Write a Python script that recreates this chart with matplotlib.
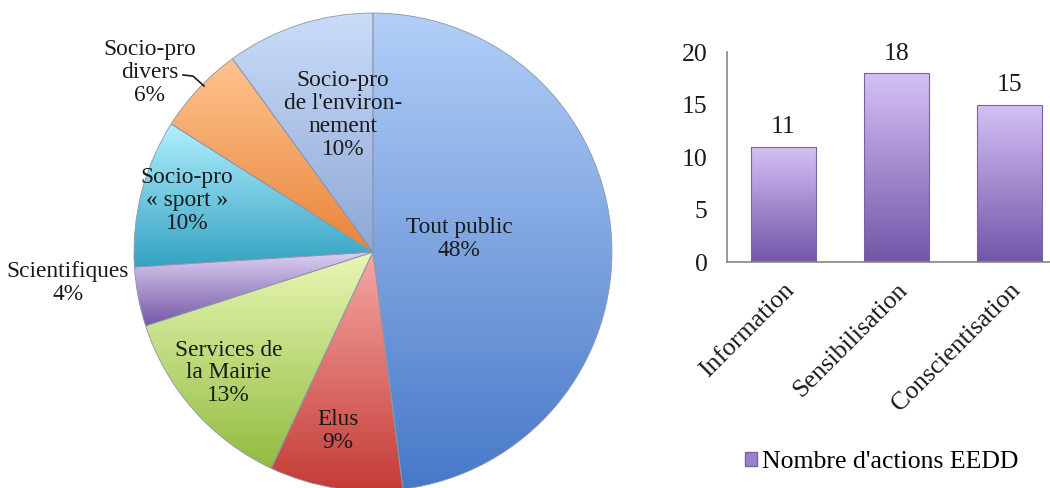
import numpy as np
import matplotlib
matplotlib.use('Agg')
import matplotlib.pyplot as plt
from matplotlib.colors import LinearSegmentedColormap
from matplotlib.patches import Patch

plt.rcParams['font.family'] = ['Liberation Serif', 'DejaVu Serif']

# Publics touchés
publics = ['Tout public', 'Elus', 'Services de\nla Mairie', 'Scientifiques',
           'Socio-pro\n« sport »', 'Socio-pro\ndivers',
           "Socio-pro\nde l'environ-\nnement"]
parts = [48, 9, 13, 4, 10, 6, 10]

# Types d'actions
actions = ['Information', 'Sensibilisation', 'Conscientisation']
nb_actions = [11, 18, 15]
serie = "Nombre d'actions EEDD"

# (haut, bas) du dégradé de chaque part
pie_grad = [('#b3cff8', '#4778c8'), ('#f6a8a4', '#c43b37'), ('#e9f7b6', '#92bc40'),
            ('#dccff2', '#7657a6'), ('#b2f0ff', '#35a2c2'), ('#ffc48f', '#e8843a'),
            ('#cadcf8', '#8ea7d6')]
bar_grad = ('#d4c1f6', '#7455a8')

# emplacement des étiquettes (unités du camembert, rayon = 1)
label_xy = [(0.36, 0.055), (-0.146, -0.75), (-0.603, -0.506), (-1.276, -0.13),
            (-0.778, 0.214), (-0.933, 0.75), (-0.126, 0.573)]

PIE_FS = 16.8
BAR_FS = 18.5


def fill_gradient(ax, patch, c_top, c_bottom, zorder=1):
    cmap = LinearSegmentedColormap.from_list('g', [c_bottom, c_top])
    ext = patch.get_path().get_extents(patch.get_patch_transform())
    grad = np.linspace(0, 1, 256).reshape(-1, 1)
    im = ax.imshow(grad, cmap=cmap, origin='lower', aspect='auto',
                   extent=[ext.x0, ext.x1, ext.y0, ext.y1],
                   interpolation='bicubic', zorder=zorder)
    im.set_clip_path(patch)


fig = plt.figure(figsize=(10.5, 4.88), dpi=100)

# --- camembert ---
axp = fig.add_axes([0.1276, -0.0062, 0.4552, 0.9795])
wedges, _ = axp.pie(parts, startangle=90, counterclock=False, radius=1,
                    wedgeprops=dict(edgecolor='#8a96aa', linewidth=0.6, zorder=3))
for w, (top, bot) in zip(wedges, pie_grad):
    w.set_facecolor('none')
    fill_gradient(axp, w, top, bot, zorder=2)

for name, v, (x, y) in zip(publics, parts, label_xy):
    axp.text(x, y, f'{name}\n{v}%', ha='center', va='center',
             fontsize=PIE_FS, color='#1a1a1a', linespacing=1.12, zorder=5)

# trait de rappel pour "Socio-pro divers"
axp.plot([-0.795, -0.753, -0.707], [0.741, 0.736, 0.695], color='#1a1a1a', lw=1.2, zorder=5)

axp.set_xlim(-1, 1)
axp.set_ylim(-1, 1)
axp.set_aspect('auto')
axp.axis('off')

# --- histogramme ---
axb = fig.add_axes([0.6924, 0.4631, 0.3229, 0.4303])
x = np.arange(len(actions))
bars = axb.bar(x, nb_actions, width=0.58, color='none', edgecolor='#7a62a0',
               linewidth=0.8, zorder=3)
for b in bars:
    fill_gradient(axb, b, bar_grad[0], bar_grad[1], zorder=2)
axb.bar_label(bars, labels=[str(v) for v in nb_actions], padding=6,
              fontsize=BAR_FS, color='#1a1a1a')

axb.set_xlim(-0.5, 2.5)
axb.set_ylim(0, 20)
axb.set_yticks([0, 5, 10, 15, 20])
axb.set_xticks(x)
axb.set_xticklabels(actions, rotation=45, ha='right', va='top',
                    rotation_mode='anchor')
axb.tick_params(axis='both', length=0, labelsize=BAR_FS, colors='#1a1a1a')
axb.tick_params(axis='y', pad=14)
axb.tick_params(axis='x', pad=12)
for s in ['top', 'right']:
    axb.spines[s].set_visible(False)
for s in ['left', 'bottom']:
    axb.spines[s].set_color('#868686')
    axb.spines[s].set_linewidth(1.2)

fig.legend(handles=[Patch(facecolor='#9a80cf', edgecolor='#7a62a0', label=serie)],
           loc='center', bbox_to_anchor=(882 / 1050, 26 / 488), frameon=False,
           fontsize=BAR_FS, handlelength=0.45, handleheight=0.5, handletextpad=0.2)

fig.savefig('out.png', dpi=100)
